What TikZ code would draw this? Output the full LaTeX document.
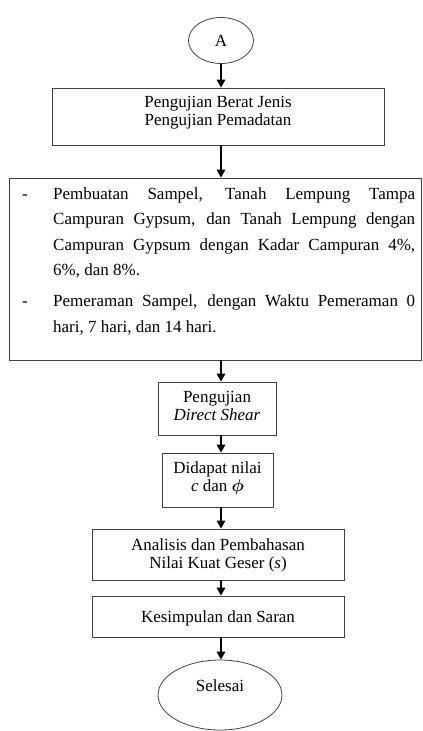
\documentclass[tikz,border=0pt]{standalone}
\usepackage{amsmath}
\usepackage{fontspec}
\setmainfont{Liberation Serif}
\usetikzlibrary{arrows.meta,shapes.geometric}
\begin{document}
\begin{tikzpicture}[x=1pt,y=-1pt,
  font=\fontsize{17}{18}\selectfont,
  box/.style={draw=black!75, line width=0.8pt, rectangle, inner sep=0pt},
  txt/.style={align=center, inner sep=0pt},
  arr/.style={-{Triangle[length=8pt,width=8.5pt]}, line width=1.6pt}]
\useasboundingbox (0,0) rectangle (423,731);
% start connector
\node[draw=black!75, line width=0.8pt, ellipse, minimum width=65pt, minimum height=46pt, inner sep=0pt] (A) at (221,40.5) {A};
% box 1
\node[box, minimum width=332pt, minimum height=57pt] (b1) at (218,116.5) {};
\node[txt] (t1) at (218,113) {Pengujian Berat Jenis\\Pengujian Pemadatan};
% box 2
\node[box, minimum width=412pt, minimum height=182pt] (b2) at (215,269) {};
\node[text width=393pt, align=justify, inner sep=0pt, anchor=north west,
      font=\fontsize{17}{25.5}\selectfont] (t2) at (22,187.5) {%
\noindent\hangindent=31pt\hangafter=1\makebox[31pt][l]{-}Pembuatan Sampel, Tanah Lempung Tampa\linebreak Campuran Gypsum, dan Tanah Lempung dengan\linebreak Campuran Gypsum dengan Kadar Campuran 4\%,\linebreak 6\%, dan 8\%.\par
\vspace{5.5pt}
\noindent\hangindent=31pt\hangafter=1\makebox[31pt][l]{-}Pemeraman Sampel, dengan Waktu Pemeraman 0\linebreak hari, 7 hari, dan 14 hari.\par};
% box 3
\node[box, minimum width=118pt, minimum height=53pt] (b3) at (217,408.5) {};
\node[txt] (t3) at (217,406) {Pengujian\\\textit{Direct Shear}};
% box 4
\node[box, minimum width=111pt, minimum height=54pt] (b4) at (217.5,480) {};
\node[txt] (t4) at (217.5,478.5) {Didapat nilai\\\textit{c} dan $\boldsymbol{\phi}$};
% box 5
\node[box, minimum width=252pt, minimum height=51pt] (b5) at (218,554.5) {};
\node[txt] (t5) at (218,555) {Analisis dan Pembahasan\\Nilai Kuat Geser (\textit{s})};
% box 6
\node[box, minimum width=252pt, minimum height=41pt] (b6) at (218,616.5) {};
\node[txt] (t6) at (218,618) {Kesimpulan dan Saran};
% end
\node[draw=black!75, line width=0.8pt, ellipse, minimum width=124pt, minimum height=70pt, inner sep=0pt] (E) at (220,695) {};
\node[txt] (tE) at (220,686) {Selesai};
% arrows
\draw[arr] (A.south) -- (b1.north -| A.south);
\draw[arr] (b1.south -| A.south) -- (b2.north -| A.south);
\draw[arr] (b2.south -| A.south) -- (b3.north -| A.south);
\draw[arr] (b3.south -| A.south) -- (b4.north -| A.south);
\draw[arr] (b4.south -| A.south) -- (b5.north -| A.south);
\draw[arr] (b5.south -| A.south) -- (b6.north -| A.south);
\draw[arr] (b6.south -| A.south) -- (E.north -| A.south);
\end{tikzpicture}
\end{document}
